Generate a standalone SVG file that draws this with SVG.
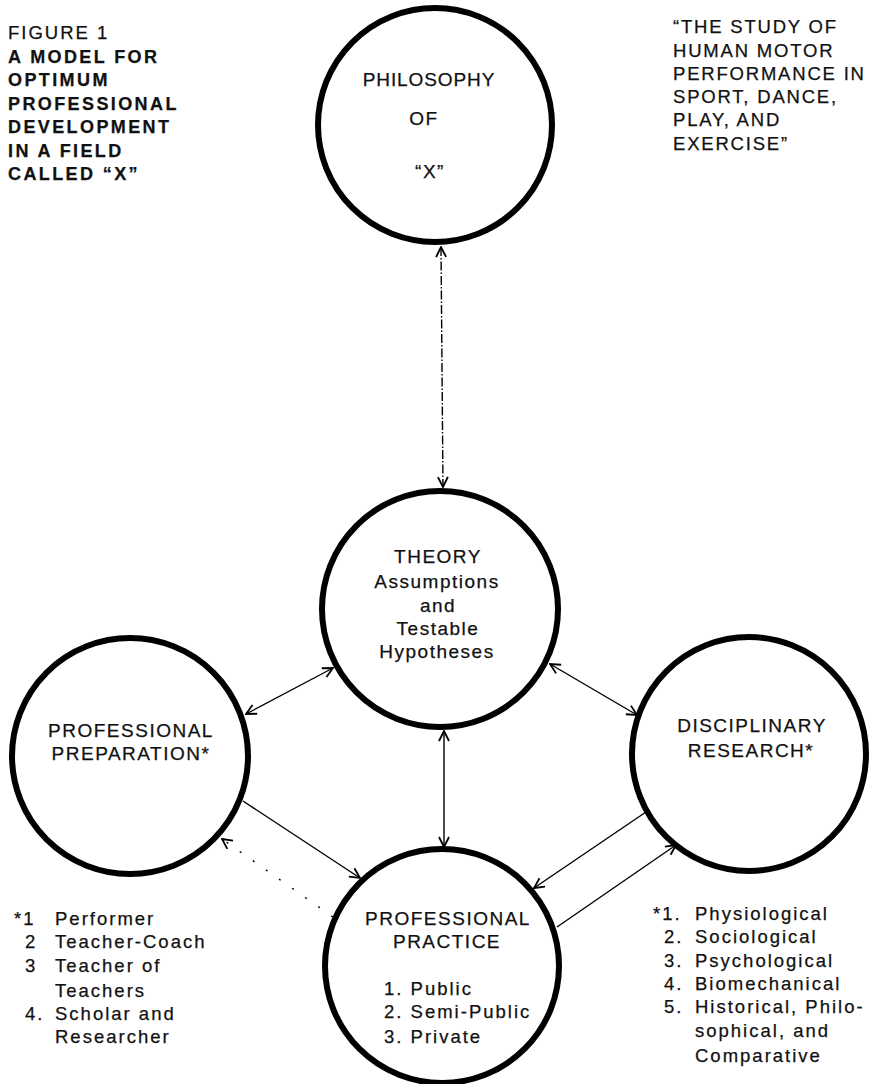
<svg xmlns="http://www.w3.org/2000/svg" width="876" height="1084" viewBox="0 0 876 1084">
<style>
  .node { fill: #ffffff; stroke: #000000; stroke-width: 6; }
  .t { font-family: "Liberation Sans", Arial, sans-serif; fill: #111111; stroke: #111111; stroke-width: 0.25; }
  .lbl { font-size: 19px; letter-spacing: 1.5px; text-anchor: middle; }
  .side { font-size: 18.5px; letter-spacing: 2px; }
  .bold { font-weight: bold; font-size: 18px; letter-spacing: 2.4px; }
  .conn { stroke: #000000; stroke-width: 1.4; fill: none; }
</style>
<defs>
  <marker id="arr" viewBox="0 0 12 12" markerWidth="12" markerHeight="12" refX="11" refY="6" orient="auto-start-reverse" markerUnits="userSpaceOnUse">
    <path d="M1,1 L11,6 L1,11" fill="none" stroke="#000" stroke-width="1.8"/>
  </marker>
</defs>
<rect width="876" height="1084" fill="#ffffff"/>

<g id="title" class="t side">
  <text x="8" y="39">FIGURE 1</text>
  <text class="bold" x="8" y="63">A MODEL FOR</text>
  <text class="bold" x="8" y="86">OPTIMUM</text>
  <text class="bold" x="8" y="110">PROFESSIONAL</text>
  <text class="bold" x="8" y="133">DEVELOPMENT</text>
  <text class="bold" x="8" y="157">IN A FIELD</text>
  <text class="bold" x="8" y="180">CALLED “X”</text>
</g>

<g id="definition" class="t side" style="letter-spacing:1.8px">
  <text x="673" y="33">“THE STUDY OF</text>
  <text x="673" y="57">HUMAN MOTOR</text>
  <text x="673" y="80">PERFORMANCE IN</text>
  <text x="673" y="103">SPORT, DANCE,</text>
  <text x="673" y="126">PLAY, AND</text>
  <text x="673" y="150">EXERCISE”</text>
</g>

<g id="connectors">
  <line class="conn" x1="441" y1="247" x2="443" y2="487" stroke-dasharray="9 2 1.5 2" stroke-width="1.2" marker-start="url(#arr)" marker-end="url(#arr)"/>
  <line class="conn" x1="444" y1="731" x2="444" y2="847" marker-start="url(#arr)" marker-end="url(#arr)"/>
  <line class="conn" x1="246" y1="714" x2="333" y2="668" marker-start="url(#arr)" marker-end="url(#arr)"/>
  <line class="conn" x1="550" y1="664" x2="637" y2="715" marker-start="url(#arr)" marker-end="url(#arr)"/>
  <line class="conn" x1="243" y1="801" x2="360" y2="878" stroke-width="1.1" marker-end="url(#arr)"/>
  <line class="conn" x1="333" y1="917" x2="222" y2="839" stroke-width="1.1" stroke-dasharray="2 14" marker-end="url(#arr)"/>
  <line class="conn" x1="646" y1="812" x2="534" y2="888" stroke-width="1.2" marker-end="url(#arr)"/>
  <line class="conn" x1="557" y1="927" x2="676" y2="845" stroke-width="1.2" marker-end="url(#arr)"/>
</g>

<g id="philosophy">
  <circle class="node" cx="435" cy="125" r="117"/>
  <text class="t lbl" x="429" y="86" style="letter-spacing:0.9px">PHILOSOPHY</text>
  <text class="t lbl" x="424" y="125">OF</text>
  <text class="t lbl" x="430" y="178">“X”</text>
</g>

<g id="theory">
  <circle class="node" cx="440" cy="609" r="118"/>
  <text class="t lbl" x="438" y="563">THEORY</text>
  <text class="t lbl" x="437" y="588">Assumptions</text>
  <text class="t lbl" x="438" y="612">and</text>
  <text class="t lbl" x="438" y="635">Testable</text>
  <text class="t lbl" x="437" y="658">Hypotheses</text>
</g>

<g id="preparation">
  <circle class="node" cx="130" cy="756" r="118"/>
  <text class="t lbl" x="131" y="737">PROFESSIONAL</text>
  <text class="t lbl" x="131" y="760">PREPARATION*</text>
</g>

<g id="research">
  <circle class="node" cx="749" cy="754" r="117"/>
  <text class="t lbl" x="752" y="732">DISCIPLINARY</text>
  <text class="t lbl" x="751" y="757">RESEARCH*</text>
</g>

<g id="practice">
  <circle class="node" cx="442" cy="966" r="117"/>
  <text class="t lbl" x="448" y="925">PROFESSIONAL</text>
  <text class="t lbl" x="447" y="948">PRACTICE</text>
  <text class="t side" x="384" y="995">1.  Public</text>
  <text class="t side" x="384" y="1018">2.  Semi-Public</text>
  <text class="t side" x="384" y="1043">3.  Private</text>
</g>

<g id="preparation-list" class="t side">
  <text x="14" y="925">*1</text><text x="55" y="925">Performer</text>
  <text x="25" y="948">2</text><text x="55" y="948">Teacher-Coach</text>
  <text x="25" y="972">3</text><text x="55" y="972">Teacher of</text>
  <text x="55" y="997">Teachers</text>
  <text x="25" y="1020">4.</text><text x="55" y="1020">Scholar and</text>
  <text x="55" y="1043">Researcher</text>
</g>

<g id="research-list" class="t side">
  <text x="653" y="920">*1.</text><text x="695" y="920">Physiological</text>
  <text x="664" y="943">2.</text><text x="695" y="943">Sociological</text>
  <text x="664" y="967">3.</text><text x="695" y="967">Psychological</text>
  <text x="664" y="990">4.</text><text x="695" y="990">Biomechanical</text>
  <text x="664" y="1013">5.</text><text x="695" y="1013">Historical,  Philo-</text>
  <text x="695" y="1037">sophical, and</text>
  <text x="695" y="1062">Comparative</text>
</g>
</svg>
